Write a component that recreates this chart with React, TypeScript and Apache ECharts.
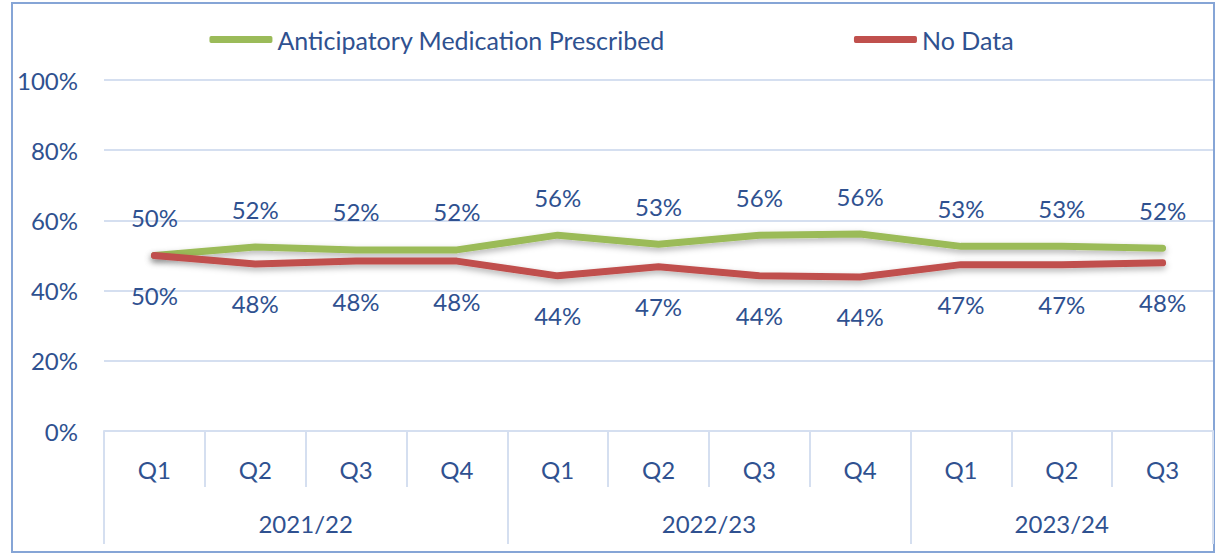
import React, { useEffect, useRef } from "react";
import * as echarts from "echarts";

const quarters = ["Q1", "Q2", "Q3", "Q4", "Q1", "Q2", "Q3", "Q4", "Q1", "Q2", "Q3"];
const years = ["2021/22", "2022/23", "2023/24"];
const yearSizes = [4, 4, 3];
const prescribed = [50, 52.4, 51.6, 51.6, 55.8, 53.2, 55.8, 56.1, 52.6, 52.6, 52.1];
const noData = [50, 47.6, 48.4, 48.4, 44.2, 46.8, 44.2, 43.9, 47.4, 47.4, 47.9];
const seriesNames = ["Anticipatory Medication Prescribed", "No Data"];
const seriesColors = ["#9bbb59", "#c0504d"];

const FONT = "Lato";
const FS = 24;
const TEXT = "#2f5190";
const GRID = "#d5dff0";

export default function App() {
  const ref = useRef<HTMLDivElement>(null);
  useEffect(() => {
    document.body.style.margin = "0";
    const chart = echarts.init(ref.current!, undefined, { renderer: "svg" });
    const bounds: number[] = [0];
    yearSizes.forEach((s) => bounds.push(bounds[bounds.length - 1] + s));
    const centers = yearSizes.map((s, i) => bounds[i] + s / 2);
    const lineSeries = (name: string, data: number[], color: string, pos: string, dist: number) => ({
      name,
      type: "line",
      data,
      xAxisIndex: 0,
      symbol: "circle",
      symbolSize: 2,
      showSymbol: true,
      lineStyle: {
        color,
        width: 7,
        cap: "round",
        join: "round",
        shadowColor: "rgba(0,0,0,0.3)",
        shadowBlur: 6,
        shadowOffsetY: 3,
      },
      itemStyle: { color: "rgba(0,0,0,0)", borderWidth: 0 },
      label: {
        show: true,
        position: pos,
        distance: dist,
        color: TEXT,
        fontFamily: FONT,
        fontSize: FS,
        formatter: (p: any) => Math.round(p.value) + "%",
      },
      labelLayout: { hideOverlap: false },
    });
    chart.setOption({
      animation: false,
      backgroundColor: "#fff",
      legend: {
        top: 22,
        left: "center",
        itemWidth: 63,
        itemHeight: 7,
        itemGap: 189,
        icon: "roundRect",
        textStyle: { color: TEXT, fontFamily: FONT, fontSize: 25 },
        data: seriesNames.map((n, i) => ({ name: n, itemStyle: { color: seriesColors[i] } })),
      },
      grid: { left: 104, right: 10, top: 80, bottom: 123 },
      xAxis: [
        {
          type: "category",
          data: quarters,
          boundaryGap: true,
          axisLine: { show: true, lineStyle: { color: GRID, width: 2 } },
          axisTick: { show: true, interval: 0, length: 56, lineStyle: { color: GRID, width: 2 } },
          axisLabel: { interval: 0, margin: 26, color: TEXT, fontFamily: FONT, fontSize: FS },
          splitLine: { show: false },
        },
        {
          type: "value",
          min: 0,
          max: bounds[bounds.length - 1],
          position: "bottom",
          axisLine: { show: false },
          splitLine: { show: false },
          axisTick: {
            show: true,
            customValues: bounds,
            length: 113,
            lineStyle: { color: GRID, width: 2 },
          },
          axisLabel: {
            customValues: centers,
            margin: 80,
            color: TEXT,
            fontFamily: FONT,
            fontSize: FS,
            formatter: (v: number) => years[centers.indexOf(v)] ?? "",
          },
        },
      ],
      yAxis: {
        type: "value",
        min: 0,
        max: 100,
        interval: 20,
        axisLine: { show: false },
        axisTick: { show: false },
        splitLine: { lineStyle: { color: GRID, width: 2 } },
        axisLabel: {
          margin: 26,
          color: TEXT,
          fontFamily: FONT,
          fontSize: FS,
          formatter: "{value}%",
        },
      },
      graphic: [
        {
          type: "rect",
          silent: true,
          z: -1,
          shape: { x: 12, y: 3, width: 1202, height: 549 },
          style: { fill: "none", stroke: "#86a5d6", lineWidth: 2 },
        },
      ],
      series: [
        lineSeries(seriesNames[0], prescribed, seriesColors[0], "top", 25),
        lineSeries(seriesNames[1], noData, seriesColors[1], "bottom", 27),
      ],
    });
    return () => chart.dispose();
  }, []);
  return <div ref={ref} style={{ width: 1223, height: 554 }} />;
}
